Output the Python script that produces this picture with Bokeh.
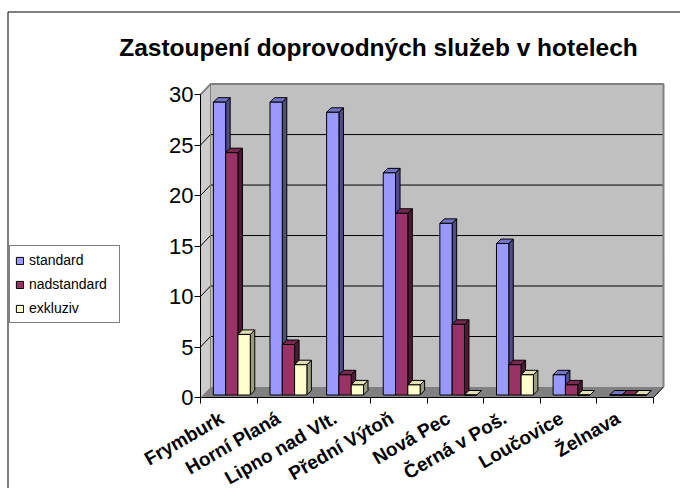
import math
from bokeh.plotting import figure
from bokeh.models import (Range1d, FixedTicker, Legend, LegendItem, Label,
                          CustomJSTickFormatter)
from bokeh.embed import file_html
from bokeh.resources import INLINE

# ---------------- data ----------------
categories = ["Frymburk", "Horní Planá", "Lipno nad Vlt.", "Přední Výtoň",
              "Nová Pec", "Černá v Poš.", "Loučovice", "Želnava"]
standard = [29, 29, 28, 22, 17, 15, 2, 0]
nadstandard = [24, 5, 2, 18, 7, 3, 1, 0]
exkluziv = [6, 3, 1, 1, 0, 2, 0, 0]
series_names = ["standard", "nadstandard", "exkluziv"]
y_ticks = [0, 5, 10, 15, 20, 25, 30]
title_text = "Zastoupení doprovodných služeb v hotelech"

# ---------------- styling / layout (pixels of the page) ----------------
FONT = "Liberation Sans"
front_colors = ["#9999FF", "#993366", "#FFFFCC"]
top_colors = ["#7373C6", "#77284F", "#E0E0B4"]
side_colors = ["#4D4D88", "#4D1A33", "#9A9A7C"]

W, H = 680, 488
ORG_X, ORG_Y = 0, 0           # page offset of the canvas
AX_X, AX_Y = 200, 397         # page position of the front axes corner
PX_X = 56.625                 # px per category
PX_Y = 10.097                 # px per value unit
n = len(categories)
x_start, x_end_cat = -0.5, n - 0.5
ymax = y_ticks[-1]


def dx(px):  # page x -> data x
    return x_start + (px - AX_X) / PX_X


def dy(py):  # page y -> data y
    return (AX_Y - py) / PX_Y


WX, WY = 10 / PX_X, 10.5 / PX_Y      # wall depth
BX, BY = 3 / PX_X, 2.5 / PX_Y        # bar offset from front plane
DX, DY = 4.5 / PX_X, 4.5 / PX_Y      # bar depth
BW = 12.3 / PX_X                     # bar width
LBL_SHIFT = 7 / PX_X

p = figure(width=W, height=H, output_backend="svg", toolbar_location=None,
           x_range=Range1d(dx(ORG_X), dx(ORG_X + W)),
           y_range=Range1d(dy(ORG_Y + H), dy(ORG_Y)),
           min_border=0, title=None)
p.outline_line_color = None
p.grid.visible = False
p.background_fill_color = "white"
p.border_fill_color = "white"

# outer chart border (left and top edges visible in the reference)
p.line([dx(7.5), dx(7.5), dx(ORG_X + W)],
       [dy(ORG_Y + H), dy(11.5), dy(11.5)], line_color="black", line_width=1)

# walls
p.quad(left=[x_start + WX], right=[x_end_cat + WX], bottom=[WY], top=[ymax + WY],
       fill_color="#C0C0C0", line_color=None)
p.patch([x_start, x_start, x_start + WX, x_start + WX], [0, ymax, ymax + WY, WY],
        fill_color="#CDCDCD", line_color=None)
p.patch([x_start, x_end_cat, x_end_cat + WX, x_start + WX], [0, 0, WY, WY],
        fill_color="#808080", line_color=None)
# gridlines
gy = y_ticks[1:-1]
p.segment(x0=[x_start + WX] * len(gy), x1=[x_end_cat + WX] * len(gy),
          y0=[g + WY for g in gy], y1=[g + WY for g in gy], line_color="black", line_width=1)
p.segment(x0=[x_start] * len(gy), x1=[x_start + WX] * len(gy),
          y0=gy, y1=[g + WY for g in gy], line_color="black", line_width=1)
# wall edges
p.line([x_start + WX, x_start + WX], [WY, ymax + WY], line_color="#808080", line_width=1)
p.line([x_start, x_start + WX, x_end_cat + WX, x_end_cat + WX],
       [ymax, ymax + WY, ymax + WY, WY], line_color="#808080", line_width=2)
p.line([x_end_cat, x_end_cat + WX], [0, WY], line_color="black", line_width=1)

# bars
renderers = []
for j, vals in enumerate([standard, nadstandard, exkluziv]):
    x0 = [i - 1.5 * BW + j * BW + BX for i in range(n)]
    x1 = [a + BW for a in x0]
    y0 = [BY] * n
    y1 = [BY + v for v in vals]
    side_xs = [[b, b + DX, b + DX, b] for b in x1]
    side_ys = [[BY, BY + DY, t + DY, t] for t in y1]
    top_xs = [[a, b, b + DX, a + DX] for a, b in zip(x0, x1)]
    top_ys = [[t, t, t + DY, t + DY] for t in y1]
    p.patches(side_xs, side_ys, fill_color=side_colors[j], line_color="black", line_width=1)
    p.patches(top_xs, top_ys, fill_color=top_colors[j], line_color="black", line_width=1)
    r = p.quad(left=x0, right=x1, bottom=y0, top=y1, fill_color=front_colors[j],
               line_color="black", line_width=1)
    renderers.append(r)

# axes (fixed at the front corner of the 3D box)
yax = p.yaxis[0]
yax.fixed_location = x_start
yax.ticker = FixedTicker(ticks=y_ticks)
yax.bounds = (0, ymax)
yax.major_tick_in = 0
yax.major_tick_out = 6
yax.minor_tick_line_color = None
yax.axis_line_color = "black"
yax.major_label_text_font = FONT
yax.major_label_text_font_size = "22px"
yax.major_label_text_color = "black"
yax.major_label_standoff = 1

xax = p.xaxis[0]
xax.fixed_location = 0
xax.ticker = FixedTicker(ticks=[i - LBL_SHIFT for i in range(n)],
                         minor_ticks=[i - 0.5 for i in range(n + 1)])
xax.formatter = CustomJSTickFormatter(args=dict(labels=categories),
                                      code="return labels[index];")
xax.bounds = (x_start, x_end_cat)
xax.major_tick_in = 0
xax.major_tick_out = 0
xax.minor_tick_in = 0
xax.minor_tick_out = 6
xax.minor_tick_line_color = "black"
xax.axis_line_color = "black"
xax.major_label_orientation = math.pi / 6
xax.major_label_text_font = FONT
xax.major_label_text_font_style = "bold"
xax.major_label_text_font_size = "19px"
xax.major_label_text_color = "black"
xax.major_label_standoff = 13

# title
p.add_layout(Label(x=dx(378), y=dy(47), text=title_text,
                   text_font=FONT, text_font_style="bold", text_font_size="24.5px",
                   text_align="center", text_baseline="alphabetic", text_color="black"))

# legend
legend = Legend(items=[LegendItem(label=nm, renderers=[r]) for nm, r in zip(series_names, renderers)],
                location=(9 - ORG_X, ORG_Y + H - 323), orientation="vertical",
                glyph_width=9, glyph_height=9, label_standoff=5, padding=5, spacing=6,
                label_height=18, label_width=85, margin=0,
                label_text_font=FONT, label_text_font_size="14px", label_text_color="black",
                border_line_color="black", border_line_width=1, background_fill_color="white",
                background_fill_alpha=1.0)
p.add_layout(legend)

open("out.html", "w").write(file_html(p, INLINE))
